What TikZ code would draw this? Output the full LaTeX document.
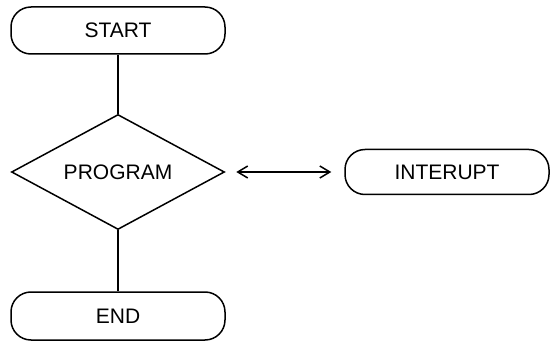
\documentclass[tikz,border=0pt]{standalone}
\usepackage{fontspec}
\setmainfont{Liberation Sans}
\usetikzlibrary{shapes.geometric,arrows.meta}

\begin{document}
\begin{tikzpicture}[x=1pt,y=1pt,
    terminal/.style={draw, rectangle, rounded corners=20pt, line width=1.5pt, minimum width=214pt, minimum height=47pt},
    decision/.style={draw, diamond, aspect=1.85, line width=1.5pt, minimum width=213pt, minimum height=115pt, inner sep=0pt},
    flow/.style={line width=1.5pt},
    font=\fontsize{21}{24}\selectfont]
    \useasboundingbox (0,0) rectangle (552,-342);
    \node[terminal] (start) at (118,-30.5) {START};
    \node[decision] (prog) at (118,-172) {PROGRAM};
    \node[terminal, minimum width=204pt, minimum height=45pt] (intr) at (447,-172) {INTERUPT};
    \node[terminal, minimum height=48pt] (stop) at (118,-316) {END};
    \draw[flow] (start) -- (prog);
    \draw[flow] (prog) -- (stop);
    \draw[flow, {Straight Barb[length=10pt,width=12pt]}-{Straight Barb[length=10pt,width=12pt]}, shorten <=11pt, shorten >=13pt] (prog.east) -- (intr.west);
\end{tikzpicture}
\end{document}
